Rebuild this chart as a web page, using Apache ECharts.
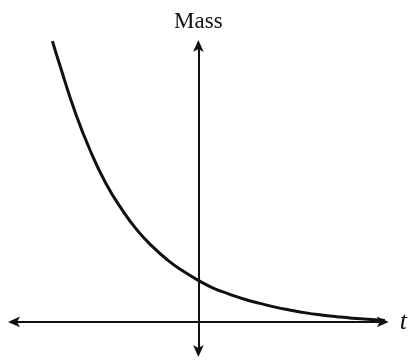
<!DOCTYPE html>
<html>
<head>
<meta charset="utf-8">
<script src="https://cdn.jsdelivr.net/npm/echarts@6/dist/echarts.min.js"></script>
<style>html,body{margin:0;padding:0;background:#fff;}#c{width:410px;height:360px;}</style>
</head>
<body>
<div id="c"></div>
<script>
// time (t) values, axis origin at t = 0
var tValues = [-4.75, -4.5, -4, -3.5, -3, -2.5, -2, -1.5, -1, -0.5, 0, 0.5, 1, 1.5, 2, 2.5, 3, 3.5, 4, 4.5, 5, 5.5, 6, 6.15];
// mass values
var massValues = [96.7, 88.1, 71.9, 58.5, 47.5, 38.9, 31.7, 26.0, 21.3, 17.5, 14.3, 11.6, 9.6, 7.8, 6.4, 5.1, 4.06, 3.13, 2.41, 1.82, 1.31, 0.95, 0.55, 0.41];
var xName = 't';
var yName = 'Mass';

var points = tValues.map(function (t, i) { return [t, massValues[i]]; });
var ink = '#111';
var chart = echarts.init(document.getElementById('c'), null, { renderer: 'canvas' });
var axisCommon = {
  type: 'value',
  axisLine: { show: true, onZero: true, symbol: ['arrow', 'arrow'], symbolSize: [8, 12], symbolOffset: [-6, 6], lineStyle: { color: ink, width: 2 } },
  axisTick: { show: false },
  axisLabel: { show: false },
  splitLine: { show: false }
};
chart.setOption({
  animation: false,
  backgroundColor: '#fff',
  grid: { left: 14, right: 22, top: 46, bottom: 9, containLabel: false },
  xAxis: Object.assign({}, axisCommon, {
    min: -6, max: 6,
    name: xName, nameLocation: 'end', nameGap: 17,
    nameTextStyle: { fontFamily: 'Liberation Serif', fontStyle: 'italic', fontSize: 26, color: ink, verticalAlign: 'middle', padding: [4, 0, 0, 0] }
  }),
  yAxis: Object.assign({}, axisCommon, {
    min: -10, max: 95,
    name: yName, nameLocation: 'end', nameGap: 13,
    nameTextStyle: { fontFamily: 'Liberation Serif', fontSize: 23, color: ink, align: 'center' }
  }),
  series: [{
    type: 'line',
    data: points,
    smooth: true,
    clip: false,
    showSymbol: false,
    lineStyle: { color: ink, width: 3 }
  }]
});
</script>
</body>
</html>
